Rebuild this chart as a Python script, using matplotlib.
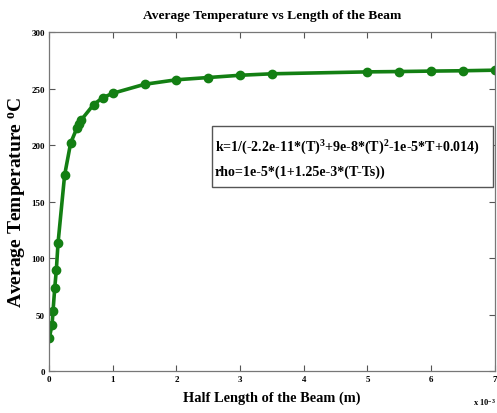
import matplotlib
matplotlib.use("Agg")
import matplotlib.pyplot as plt
from matplotlib.ticker import FixedLocator
from matplotlib.patches import Rectangle

plt.rcParams['font.family'] = ['Liberation Serif', 'DejaVu Serif']
plt.rcParams['font.weight'] = 'bold'
plt.rcParams['mathtext.default'] = 'regular'

# Data (x in units of 1e-3 m)
half_length = [0.005, 0.048, 0.063, 0.09, 0.115, 0.142, 0.245, 0.34, 0.44, 0.47, 0.50,
               0.70, 0.84, 1.0, 1.5, 2.0, 2.5, 3.0, 3.5, 5.0, 5.5, 6.0, 6.5, 7.0]
avg_temp = [29.5, 41, 53, 73.5, 89.5, 113.5, 173.5, 202, 215.5, 219, 222,
            236, 242, 246, 254, 258, 260, 262, 263.3, 265, 265.3, 265.7, 266, 266.5]
x_ticks = [0, 1, 2, 3, 4, 5, 6, 7]
y_ticks = [0, 50, 100, 150, 200, 250, 300]

title = 'Average Temperature vs Length of the Beam'
xlabel = 'Half Length of the Beam (m)'
ylabel = 'Average Temperature $^{o}$C'
box_line1 = 'k=1/(-2.2e-11*(T)$^{3}$+9e-8*(T)$^{2}$-1e-5*T+0.014)'
box_line2 = 'rho=1e-5*(1+1.25e-3*(T-Ts))'

fig = plt.figure(figsize=(4.97, 4.14), dpi=100)
ax = fig.add_axes([0.0986, 0.1014, 0.897, 0.818])

ax.plot(half_length, avg_temp, color='#137f13', lw=2.6, marker='o', ms=6,
        markerfacecolor='#137f13', markeredgecolor='#137f13')

ax.set_xlim(0, 7)
ax.set_ylim(0, 300)
ax.xaxis.set_major_locator(FixedLocator(x_ticks))
ax.yaxis.set_major_locator(FixedLocator(y_ticks))
ax.tick_params(direction='in', top=True, right=True, length=4, width=0.8,
               colors='#555555', labelcolor='black', labelsize=6.5, pad=3)
for lab in ax.get_xticklabels() + ax.get_yticklabels():
    lab.set_fontweight('bold')
for s in ax.spines.values():
    s.set_color('#777777')
    s.set_linewidth(0.9)

ax.set_title(title, fontsize=9.7, fontweight='bold', pad=10)
ax.set_xlabel(xlabel, fontsize=10.4, fontweight='bold', labelpad=5)
ax.set_ylabel(ylabel, fontsize=14, fontweight='bold')
ax.yaxis.set_label_coords(-0.046, 0.5)

fig.text(0.975, 0.015, 'x 10$^{-3}$', fontsize=6, fontweight='bold', ha='center', va='bottom')

ax.add_patch(Rectangle((0.365, 0.5436), 0.6305, 0.1802, transform=ax.transAxes,
                       facecolor='white', edgecolor='#555555', lw=1, zorder=5))
ax.text(0.372, 0.662, box_line1, transform=ax.transAxes, ha='left', va='center',
        fontsize=10.1, fontweight='bold', zorder=6)
ax.text(0.372, 0.591, box_line2, transform=ax.transAxes, ha='left', va='center',
        fontsize=10.1, fontweight='bold', zorder=6)

fig.savefig('out.png', dpi=100)
